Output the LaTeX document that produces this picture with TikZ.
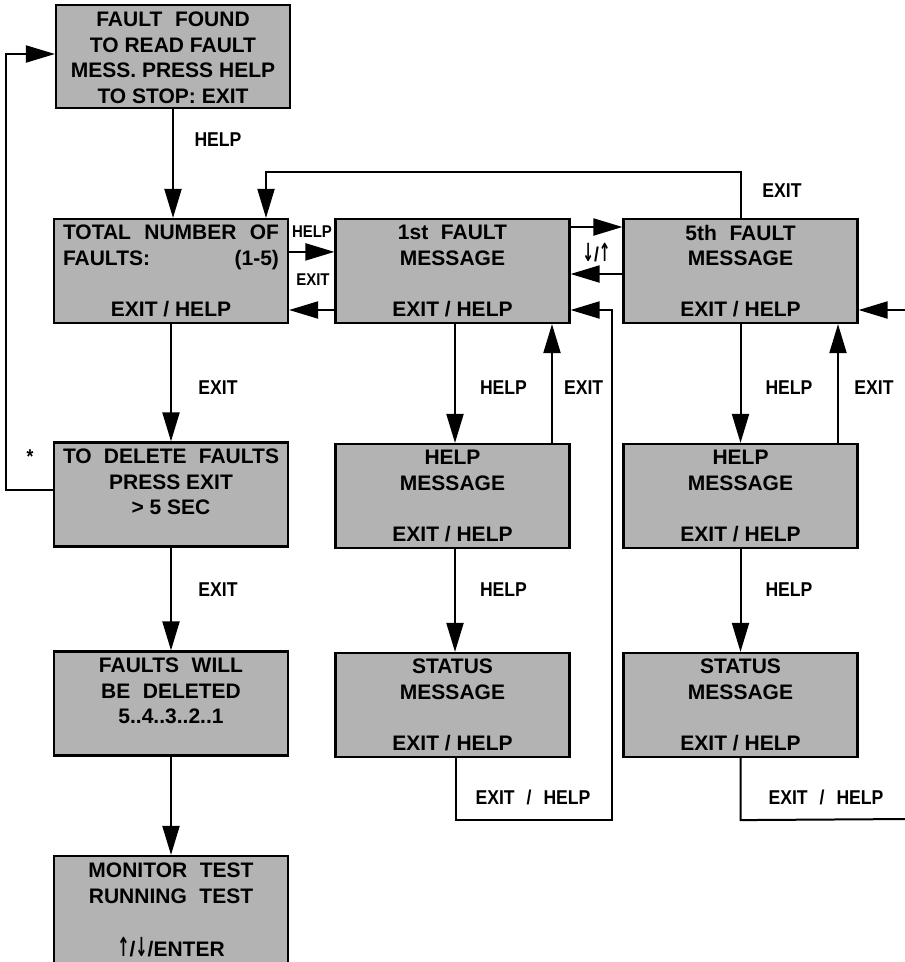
\documentclass[tikz,border=0pt]{standalone}
\usepackage{fontspec}
\usepackage{graphicx}
\setmainfont{Liberation Sans}
\newfontfamily\lblfont[FakeStretch=0.88]{Liberation Sans}
\newfontfamily\arrfont[FakeStretch=0.7]{DejaVu Sans}
\usetikzlibrary{arrows.meta}
\definecolor{boxgray}{RGB}{179,179,179}
\newcommand{\wsp}{\hspace{0.6em}}
\newcommand{\upar}{\scalebox{1}[1.25]{\arrfont\bfseries ↑}}
\newcommand{\dnar}{\scalebox{1}[1.25]{\arrfont\bfseries ↓}}
\begin{document}
\begin{tikzpicture}[x=1pt,y=-1pt,
  box/.style={draw=black, line width=2.2pt, fill=boxgray, minimum width=234pt,
    minimum height=104pt, inner sep=0pt, align=center,
    font=\fontsize{21}{25.5}\selectfont\bfseries},
  lbl/.style={font=\fontsize{20}{24}\selectfont\lblfont\bfseries, inner sep=0pt},
  slbl/.style={font=\fontsize{17}{20}\selectfont\lblfont\bfseries, inner sep=0pt},
  arr/.style={line width=2pt, -{Triangle[length=29pt,width=17pt]}},
  ln/.style={line width=2pt}]
\useasboundingbox (0,0) rectangle (905,962);
\clip (0,0) rectangle (905,962);

% boxes
\node[box, minimum height=103pt] (fault) at (173,56.5)
  {\rule{0pt}{17pt}FAULT\wsp FOUND\\TO READ FAULT\\MESS. PRESS HELP\\TO STOP: EXIT};
\node[box] (total) at (171,271)
  {\makebox[216pt]{TOTAL\hfill NUMBER\hfill OF}\\\makebox[216pt]{FAULTS:\hfill(1-5)}\\\mbox{}\\EXIT / HELP};
\node[box] (first) at (452.5,271) {1st\wsp FAULT\\MESSAGE\\\mbox{}\\EXIT / HELP};
\node[box] (fifth) at (740.5,271) {5th\wsp FAULT\\MESSAGE\\\mbox{}\\EXIT / HELP};
\node[box] (helpa) at (452.5,496) {HELP\\MESSAGE\\\mbox{}\\EXIT / HELP};
\node[box] (helpb) at (740.5,496) {HELP\\MESSAGE\\\mbox{}\\EXIT / HELP};
\node[box] (stata) at (452.5,705) {STATUS\\MESSAGE\\\mbox{}\\EXIT / HELP};
\node[box] (statb) at (740.5,705) {STATUS\\MESSAGE\\\mbox{}\\EXIT / HELP};
\node[box] (delete) at (171,494.5)
  {\makebox[216pt]{TO\hfill DELETE\hfill FAULTS}\\PRESS EXIT\\{> 5 SEC}\\\mbox{}};
\node[box] (faults) at (171,703.5) {FAULTS\wsp WILL\\BE\wsp DELETED\\5..4..3..2..1\\\mbox{}};
\node[box, minimum height=108pt, font=\fontsize{21}{26.5}\selectfont\bfseries] (monitor) at (171,910)
  {MONITOR\wsp TEST\\RUNNING\wsp TEST\\\mbox{}\\\upar/\dnar/ENTER};

% free ends at the right edge
\coordinate (edgea) at (910,819);
\coordinate (edgeb) at (910,310);

% left column
\draw[arr] (fault.south) -- (fault.south |- total.north);
\draw[arr] (total.south) -- (delete.north);
\draw[arr] (delete.south) -- (faults.north);
\draw[arr] (faults.south) -- (monitor.north);
\draw[arr] ([yshift=4.5pt]delete.west) -- ++(-47,0) |- ([yshift=2.5pt]fault.west);

% top row
\draw[arr] (fifth.north) -- ++(0,-46) -| ([xshift=95pt]total.north);
\draw[arr] ([yshift=-34pt]total.north east) -- ([yshift=-34pt]first.north west);
\draw[arr] ([yshift=-39pt]first.west) -- ([yshift=-39pt]total.east);
\draw[arr] ([yshift=44pt]first.east) -- ([yshift=44pt]fifth.west);
\draw[arr] ([yshift=-3pt]fifth.west) -- ([yshift=-3pt]first.east);

% column of 1st fault
\draw[arr] ([xshift=2.5pt]first.south) -- ([xshift=2.5pt]helpa.north);
\draw[arr] ([xshift=99.5pt]helpa.north) -- ([xshift=99.5pt]first.south);
\draw[arr] ([xshift=2.5pt]helpa.south) -- ([xshift=2.5pt]stata.north);
\draw[arr] ([xshift=3.5pt]stata.south) -- ++(0,62) -- ++(156,0) |- ([yshift=-39pt]first.east);

% column of 5th fault
\draw[arr] (fifth.south) -- (helpb.north);
\draw[arr] ([xshift=97.5pt]helpb.north) -- ([xshift=97.5pt]fifth.south);
\draw[arr] (helpb.south) -- (statb.north);
\draw[ln] (statb.south) -- ++(0,62) -- (edgea);
\draw[arr] (edgeb) -- ([yshift=-39pt]fifth.east);

% labels
\node[lbl] (lhelp0) at (218,140) {HELP};
\node[lbl] (lexit0) at (218,388) {EXIT};
\node[lbl] (lexit1) at (218,590) {EXIT};
\node[lbl] (lstar) at (30,457) {*};
\node[slbl] (lhelp1) at (312,232) {HELP};
\node[slbl] (lexit2) at (313,280) {EXIT};
\node[lbl] (lexit3) at (782,191) {EXIT};
\node[lbl] (larrows) at (596.5,253) {\dnar/\upar};
\node[lbl] (lhelp2) at (503.5,388) {HELP};
\node[lbl] (lexit4) at (583.6,388) {EXIT};
\node[lbl] (lhelp3) at (503.5,590) {HELP};
\node[lbl] (lexh1) at (533,797) {EXIT\wsp /\wsp HELP};
\node[lbl] (lhelp4) at (789,388) {HELP};
\node[lbl] (lexit5) at (874,388) {EXIT};
\node[lbl] (lhelp5) at (789,590) {HELP};
\node[lbl] (lexh2) at (826,797) {EXIT\wsp /\wsp HELP};
\end{tikzpicture}
\end{document}
